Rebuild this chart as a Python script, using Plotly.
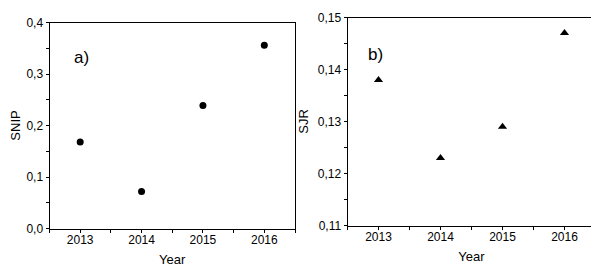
import plotly.graph_objects as go

years = [2013, 2014, 2015, 2016]
snip = [0.168, 0.072, 0.239, 0.356]
sjr = [0.138, 0.123, 0.129, 0.147]
year_ticks = [2013, 2014, 2015, 2016]

# page has an 8px body margin; work in reference pixel coordinates and shift
OFF = 8
W, H = 599 - OFF, 271 - OFF
FONT = "Liberation Sans, Arial, sans-serif"

def px(x):
    return (x - OFF) / W

def py(y):
    return 1 - (y - OFF) / H

fig = go.Figure()
fig.add_trace(go.Scatter(x=years, y=snip, mode="markers", xaxis="x", yaxis="y",
                         marker=dict(symbol="circle", size=7, color="black"),
                         showlegend=False))
fig.add_trace(go.Scatter(x=years, y=sjr, mode="markers", xaxis="x2", yaxis="y2",
                         marker=dict(symbol="triangle-up", size=8, color="black"),
                         showlegend=False))

def xax(domain, anchor):
    return dict(domain=domain, anchor=anchor, range=[2012.5, 2016.5], automargin=False,
                tickvals=year_ticks, ticktext=[str(v) for v in year_ticks],
                ticks="outside", ticklen=3, tickwidth=1, tickcolor="black",
                ticklabelstandoff=-3,
                minor=dict(ticks="outside", dtick=0.5, tick0=2012.5, ticklen=3, tickcolor="black"),
                showline=True, linecolor="black", linewidth=1, mirror=True,
                showgrid=False, zeroline=False,
                tickfont=dict(size=12, color="black", family=FONT),
                title=dict(text="Year", font=dict(size=13, color="black", family=FONT), standoff=8))

def yax(domain, anchor, rng, dtick, minor, title):
    return dict(domain=domain, anchor=anchor, range=rng, dtick=dtick, tick0=rng[0], automargin=False,
                ticks="outside", ticklen=3, tickwidth=1, tickcolor="black",
                minor=dict(ticks="outside", dtick=minor, ticklen=3, tickcolor="black"),
                showline=True, linecolor="black", linewidth=1, mirror=True,
                showgrid=False, zeroline=False,
                tickfont=dict(size=12, color="black", family=FONT),
                title=dict(text=title, font=dict(size=13, color="black", family=FONT), standoff=6))

fig.update_layout(
    width=W, height=H, margin=dict(l=0, r=0, t=0, b=0, autoexpand=False),
    paper_bgcolor="white", plot_bgcolor="white",
    separators=", ",
    xaxis=xax([px(49.5), px(295)], "y"),
    yaxis=yax([py(228.5), py(22.5)], "x", [0, 0.4], 0.1, 0.05, "SNIP"),
    xaxis2=xax([px(347.5), px(595.5)], "y2"),
    yaxis2=yax([py(225.5), py(17.5)], "x2", [0.11, 0.15], 0.01, 0.005, "SJR"),
    yaxis_tickformat=".1f",
    yaxis2_tickformat=".2f",
    annotations=[
        dict(text="a)", x=px(72), y=py(46), xref="paper", yref="paper",
             showarrow=False, font=dict(size=17, color="black", family=FONT)),
        dict(text="b)", x=px(375), y=py(43), xref="paper", yref="paper",
             showarrow=False, font=dict(size=17, color="black", family=FONT)),
    ],
)

fig.write_html("out.html")
